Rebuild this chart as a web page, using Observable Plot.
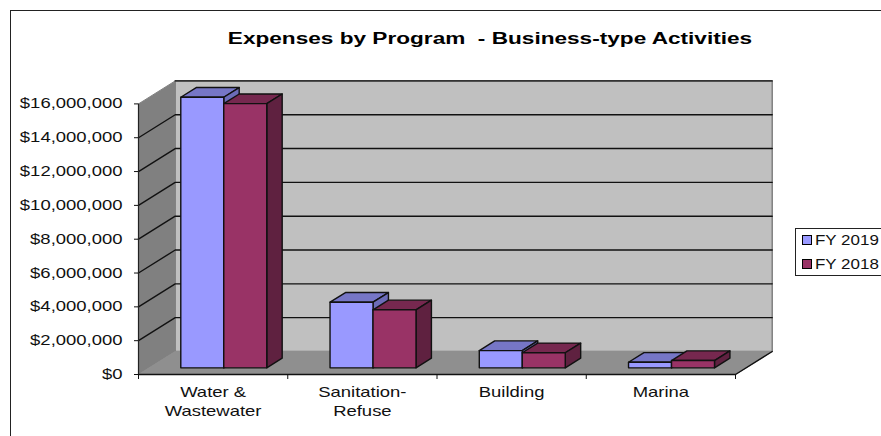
<!DOCTYPE html>
<html>
<head>
<meta charset="utf-8">
<script src="https://cdn.jsdelivr.net/npm/d3@7"></script>
<script src="https://cdn.jsdelivr.net/npm/@observablehq/plot@0.6"></script>
<style>
  html, body { margin: 0; padding: 0; background: #fff; overflow: hidden; }
  #chart { position: relative; width: 881px; height: 436px; font-family: "Liberation Sans", Arial, sans-serif; color: #111; }
  #frame { position: absolute; left: 10px; top: 10px; right: 0; bottom: 0; border-left: 1.5px solid #222; border-top: 1.5px solid #222; }
  #legend { position: absolute; left: 795px; top: 228px; width: 90px; height: 48px; border: 1.5px solid #222; box-sizing: border-box; background: #fff; }
  .item { position: absolute; left: 6px; height: 16px; }
  .swatch { position: absolute; left: 0; top: 3px; width: 10px; height: 10px; border: 1.2px solid #000; box-sizing: border-box; }
  .label { position: absolute; left: 13px; top: 0; font-size: 14.5px; line-height: 16px; white-space: nowrap; transform: scaleX(1.17); transform-origin: left center; }
  svg { position: absolute; left: 0; top: 0; }
</style>
</head>
<body>
<div id="chart"><div id="frame"></div></div>
<script>
const title = "Expenses by Program  - Business-type Activities";
const categories = ["Water &\nWastewater", "Sanitation-\nRefuse", "Building", "Marina"];
const seriesNames = ["FY 2019", "FY 2018"];
const fy2019 = [16000000, 3880000, 1020000, 330000];
const fy2018 = [15620000, 3430000, 890000, 430000];
const yTicks = [0, 2000000, 4000000, 6000000, 8000000, 10000000, 12000000, 14000000, 16000000];
const xTicks = [0, 1, 2, 3, 4];
const seriesFront = ["#9999FF", "#993366"];
const seriesTop = ["#7676C6", "#76284F"];
const seriesSide = ["#6C6CB8", "#5F2140"];

// Depth of the 3-D box, in the units of the two scales
const depthX = 0.246, depthY = 1360000;
const barWidth = 0.288;
const barNear = 0.29, barFar = 0.71;

const shape = (...pts) => {
  const rows = pts.map(([x, y]) => ({x, y}));
  rows.push(rows[0]);
  return rows;
};
const face = (pts, fill, stroke, strokeWidth) =>
  Plot.line(shape(...pts), {x: "x", y: "y", fill, stroke, strokeWidth, strokeLinejoin: "round"});

const n = categories.length;
const walls = [
  face([[0, 0], [depthX, depthY], [depthX, 16000000 + depthY], [0, 16000000]], "#808080", "#808080", 1),
  face([[depthX, depthY], [n + depthX, depthY], [n + depthX, 16000000 + depthY], [depthX, 16000000 + depthY]], "#C0C0C0", "#808080", 1.5),
  face([[0, 0], [n, 0], [n + depthX, depthY], [depthX, depthY]], "#8F8F8F", "#8F8F8F", 1)
];
const grid = yTicks.filter(v => v > 0).map(v =>
  Plot.line(v < 16000000
      ? [{x: 0, y: v}, {x: depthX, y: v + depthY}, {x: n + depthX, y: v + depthY}]
      : [{x: depthX, y: v + depthY}, {x: n + depthX, y: v + depthY}],
    {x: "x", y: "y", stroke: "#111", strokeWidth: 1.4}));
const floorEdge = Plot.line([{x: 0, y: 0}, {x: n, y: 0}, {x: n + depthX, y: depthY}],
  {x: "x", y: "y", stroke: "#111", strokeWidth: 1.4});

function bar(i, s, value) {
  const x0 = i + 0.5 - barWidth + s * barWidth + barNear * depthX;
  const x1 = x0 + barWidth;
  const b = barNear * depthY;
  const ox = (barFar - barNear) * depthX, oy = (barFar - barNear) * depthY;
  const t = b + value;
  return [
    face([[x0, t], [x1, t], [x1 + ox, t + oy], [x0 + ox, t + oy]], seriesTop[s], "#111", 1.4),
    face([[x1, b], [x1 + ox, b + oy], [x1 + ox, t + oy], [x1, t]], seriesSide[s], "#111", 1.4),
    face([[x0, b], [x1, b], [x1, t], [x0, t]], seriesFront[s], "#111", 1.4)
  ];
}
const bars = categories.flatMap((c, i) => [...bar(i, 0, fy2019[i]), ...bar(i, 1, fy2018[i])]);

const plot = Plot.plot({
  width: 881, height: 436,
  marginLeft: 138, marginRight: 146, marginTop: 103.4, marginBottom: 62,
  style: {background: "transparent", fontFamily: "'Liberation Sans', Arial, sans-serif", overflow: "visible"},
  x: {domain: [0, n], label: null},
  y: {domain: [0, 16000000], label: null},
  marks: [
    ...walls,
    ...grid,
    ...bars,
    floorEdge,
    Plot.ruleX([0], {y1: 0, y2: 16000000, stroke: "#222", strokeWidth: 1.2}),
    Plot.axisY({ticks: yTicks, tickFormat: d => "$" + d3.format(",")(d), tickSize: 4, tickPadding: 12, fontSize: 14, stroke: "#111", fill: "#111", label: null}),
    Plot.axisX({ticks: xTicks, tickFormat: () => "", tickSize: 5, stroke: "#111", label: null}),
    Plot.text(categories, {x: (d, i) => i + 0.5, y: () => 0, text: d => d, dy: 9, lineAnchor: "top", lineHeight: 1.36, fontSize: 14, fill: "#111"}),
    Plot.text([title], {frameAnchor: "top", dx: 53, dy: -65, lineAnchor: "middle", fontSize: 17, fontWeight: "bold", fill: "#000"})
  ]
});
const root = document.getElementById("chart");
root.appendChild(plot);
plot.querySelectorAll("text").forEach(t => {
  if (!t.textContent.trim()) return;
  const sx = t.textContent === title ? 1.33 : 1.32;
  t.setAttribute("transform", (t.getAttribute("transform") || "") + ` scale(${sx},1)`);
});

const legend = document.createElement("div");
legend.id = "legend";
seriesNames.forEach((name, i) => {
  const item = document.createElement("div");
  item.className = "item";
  item.style.top = (3 + i * 23.5) + "px";
  const sw = document.createElement("div");
  sw.className = "swatch";
  sw.style.background = seriesFront[i];
  const lb = document.createElement("div");
  lb.className = "label";
  lb.textContent = name;
  item.append(sw, lb);
  legend.appendChild(item);
});
root.appendChild(legend);
</script>
</body>
</html>
